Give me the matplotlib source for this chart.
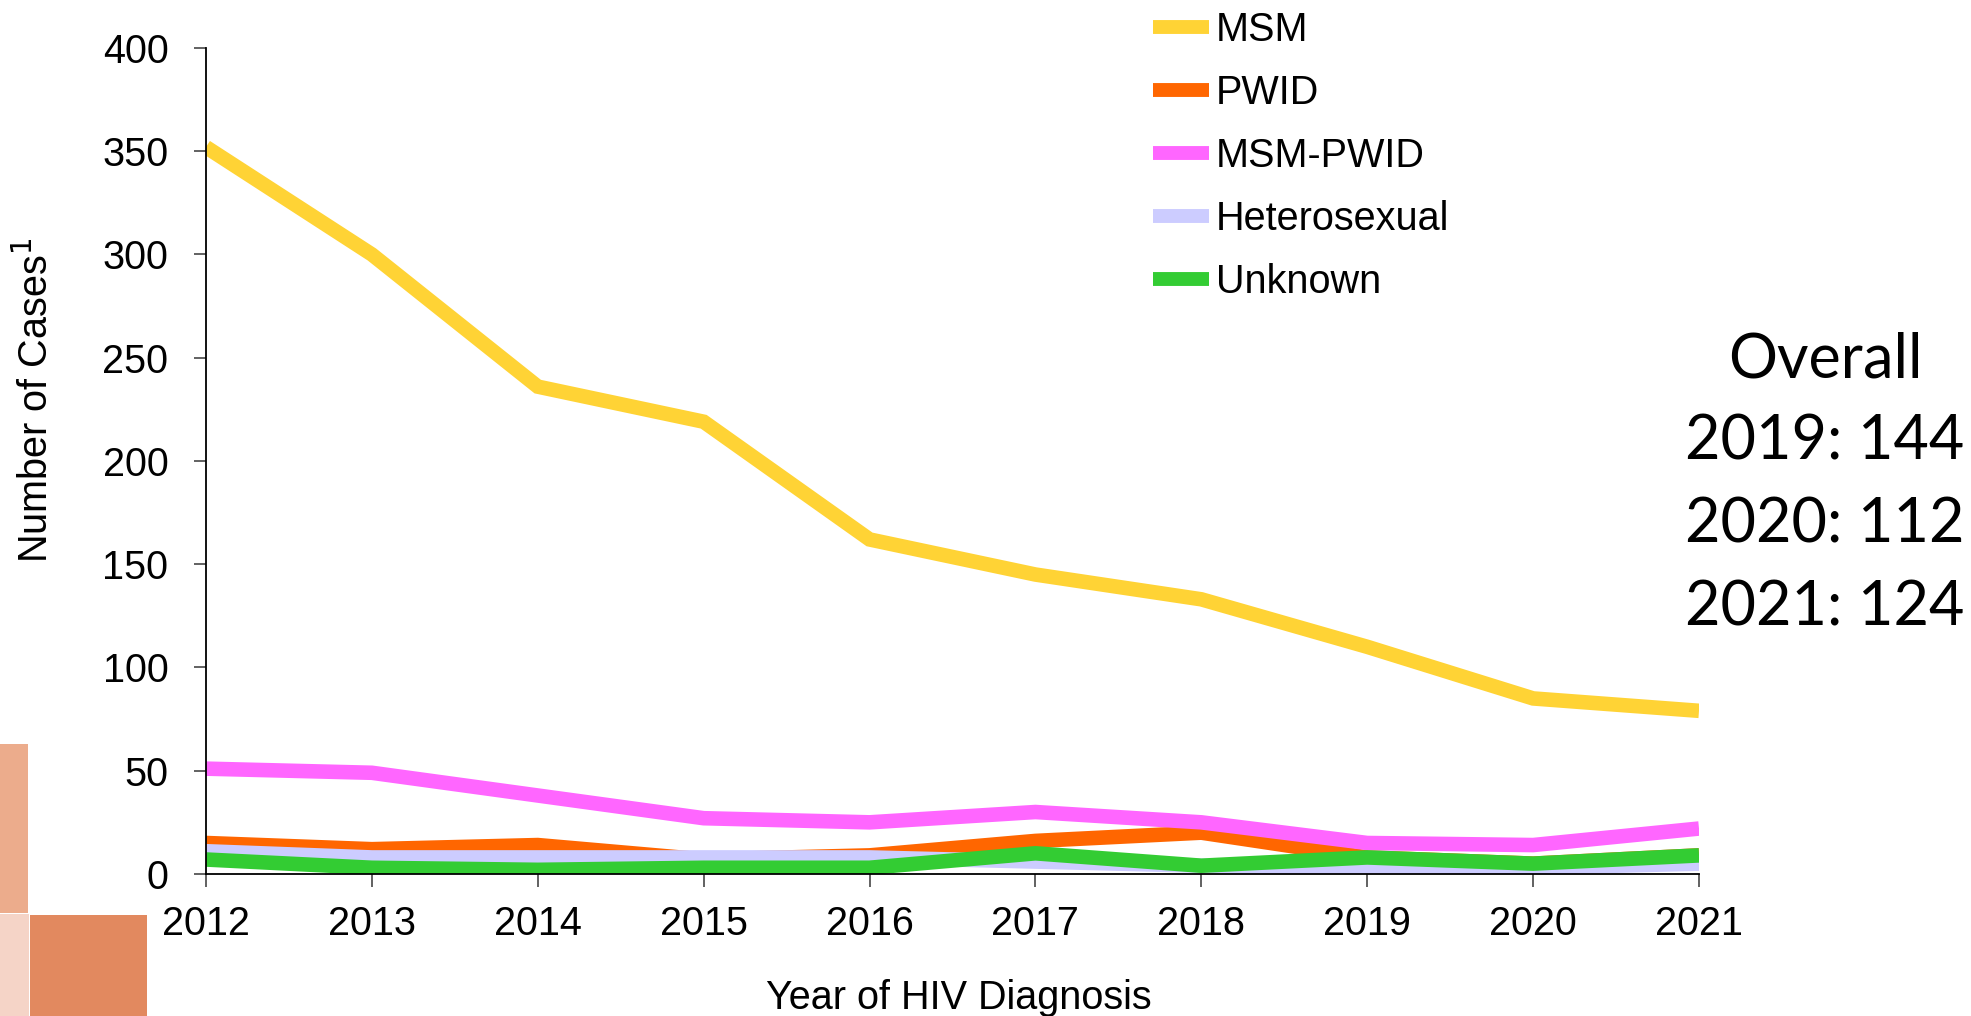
import matplotlib
matplotlib.use("Agg")
import matplotlib.pyplot as plt
from matplotlib.patches import Rectangle

# ===== data =====
years = [2012, 2013, 2014, 2015, 2016, 2017, 2018, 2019, 2020, 2021]
msm = [352, 300, 236, 219, 162, 145, 133, 110, 85, 79]
pwid = [15, 12, 14, 7, 9, 16, 20, 8, 5, 9]
msm_pwid = [51, 49, 38, 27, 25, 30, 25, 15, 14, 22]
hetero = [11, 8, 8, 8, 8, 6, 4, 3, 3, 5]
unknown = [7, 3, 2, 3, 3, 10, 4, 8, 5, 9]

series_names = ['MSM', 'PWID', 'MSM-PWID', 'Heterosexual', 'Unknown']
series_colors = ['#FFD335', '#FF6600', '#FF66FF', '#CCCCFF', '#33CC33']

overall_years = [2019, 2020, 2021]
overall_totals = [144, 112, 124]

y_ticks = [0, 50, 100, 150, 200, 250, 300, 350, 400]

plt.rcParams['font.family'] = ['Liberation Sans', 'DejaVu Sans']
fs = 28.5

fig = plt.figure(figsize=(19.71, 10.16), dpi=100)
ax = fig.add_axes([0.1045, 0.1398, 0.862 - 0.1045, 0.9528 - 0.1398])

for vals, name, col in zip([msm, pwid, msm_pwid, hetero, unknown], series_names, series_colors):
    ax.plot(years, vals, color=col, lw=10.5, label=name, solid_capstyle='butt',
            solid_joinstyle='miter')

ax.set_xlim(2012, 2021)
ax.set_ylim(0, 400)
ax.set_xticks(years)
ax.set_yticks(y_ticks)
for s in ['top', 'right']:
    ax.spines[s].set_visible(False)
for s in ['left', 'bottom']:
    ax.spines[s].set_linewidth(1.3)
ax.tick_params(axis='both', labelsize=fs, length=9, width=1.3, color='#555555')
ax.tick_params(axis='x', pad=13)
ax.tick_params(axis='y', pad=18)

ax.set_xlabel('Year of HIV Diagnosis', fontsize=fs)
ax.xaxis.set_label_coords(0.5045, -0.15)
ax.xaxis.label.set_verticalalignment('center')
ax.set_ylabel('Number of Cases$^{1}$', fontsize=fs)
ax.yaxis.set_label_coords(-0.114, 0.574)
ax.yaxis.label.set_verticalalignment('center')
plt.rcParams['mathtext.fontset'] = 'custom'

leg = ax.legend(loc='upper left', bbox_to_anchor=(1153 / 1971, 0.989),
                bbox_transform=fig.transFigure, frameon=False, fontsize=fs,
                handlelength=1.41, handletextpad=0.18, labelspacing=0.63,
                borderpad=0, borderaxespad=0)
for h in leg.get_lines():
    h.set_linewidth(10)

# overall totals on the right
fig.text(1825 / 1971, 1 - 360 / 1016, 'Overall', fontsize=44, family='Lato',
         ha='center', va='center')
for i, (yr, tot) in enumerate(zip(overall_years, overall_totals)):
    fig.text(1825 / 1971, 1 - (442 + 83 * i) / 1016, f'{yr}: {tot}', fontsize=44,
             family='Lato', ha='center', va='center')

# decorative squares bottom-left
W, H = 1971, 1016
fig.patches.append(Rectangle((0, 1 - 913 / H), 28 / W, 169 / H, transform=fig.transFigure,
                             facecolor='#ECAC8C', edgecolor='none'))
fig.patches.append(Rectangle((0, 0), 29 / W, 102 / H, transform=fig.transFigure,
                             facecolor='#F5D4C7', edgecolor='none'))
fig.patches.append(Rectangle((30 / W, 0), 117 / W, 101 / H, transform=fig.transFigure,
                             facecolor='#E2895F', edgecolor='none'))

fig.savefig('out.png', dpi=100)
